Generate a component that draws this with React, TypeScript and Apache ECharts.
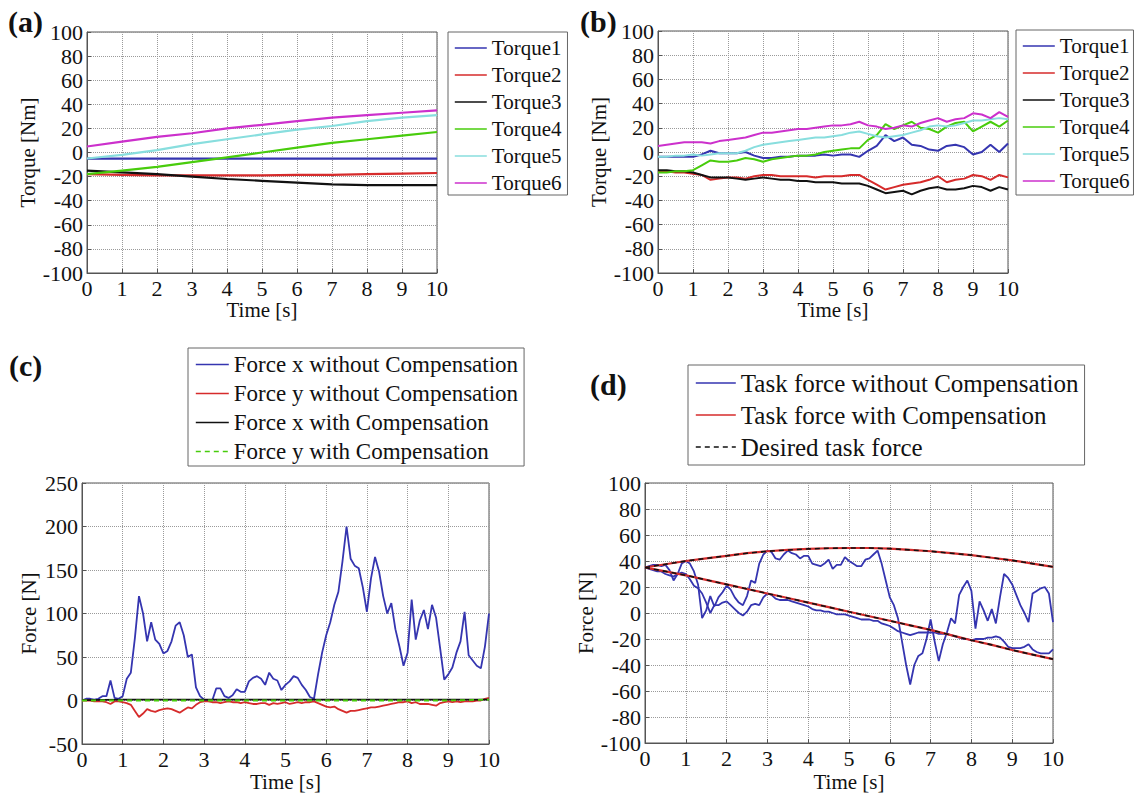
import React, { useEffect, useRef } from "react";
import * as echarts from "echarts";

const FONT = "'Liberation Serif', 'Times New Roman', serif";
const C_BLUE = "#3535b0";
const C_RED = "#d62b2b";
const C_BLACK = "#111111";
const C_GREEN = "#48cc0c";
const C_CYAN = "#88dede";
const C_MAGENTA = "#cc30cc";

// ---------- time grids ----------
const T_A = [0, 1, 2, 3, 4, 5, 6, 7, 8, 9, 10];
const T_B = Array.from({ length: 41 }, (_, i) => i * 0.25);
const T_C = Array.from({ length: 101 }, (_, i) => i / 10);
const T_D = Array.from({ length: 101 }, (_, i) => i / 10);
const T_DES = Array.from({ length: 21 }, (_, i) => i * 0.5);

const TORQUE_NAMES = ["Torque1", "Torque2", "Torque3", "Torque4", "Torque5", "Torque6"];
const TORQUE_COLORS = [C_BLUE, C_RED, C_BLACK, C_GREEN, C_CYAN, C_MAGENTA];

// ---------- (a) torques with compensation ----------
const A_TORQUE1 = [-5, -5, -5, -5, -5, -5, -5, -5, -5, -5, -5];
const A_TORQUE2 = [-18, -18.5, -19, -19, -19, -19, -18.5, -18.5, -18, -17.5, -17];
const A_TORQUE3 = [-15, -16.5, -18, -20, -22, -23.5, -25, -26.5, -27, -27, -27];
const A_TORQUE4 = [-18, -15, -12, -8, -4, 0, 4, 8, 11, 14, 17];
const A_TORQUE5 = [-5, -2, 2, 7, 11, 15, 19, 22, 26, 29, 31];
const A_TORQUE6 = [5, 9, 13, 16, 20, 23, 26, 29, 31, 33, 35];

// ---------- (b) torques without compensation (0.25 s steps) ----------
const B_TORQUE1 = [-4, -4, -4, -4, -4, -2, 1, -1, -1, -1, 0, -3, -5, -5, -4, -4, -3, -3, -3, -2, -3, -2, -2, -4, 1, 5, 14, 9, 12, 6, 5, 2, 1, 5, 6, 4, -2, 0, 6, 0, 7];
const B_TORQUE2 = [-16, -16, -17, -17, -18, -19, -23, -22, -21, -21, -22, -20, -19, -19, -20, -20, -20, -20, -21, -20, -20, -20, -19, -19, -23, -27, -31, -29, -27, -26, -25, -23, -20, -25, -23, -22, -19, -20, -23, -19, -21];
const B_TORQUE3 = [-15, -15, -16, -16, -17, -19, -21, -21, -21, -22, -23, -22, -21, -22, -23, -23, -24, -24, -25, -25, -25, -26, -26, -26, -28, -31, -34, -33, -32, -35, -32, -30, -29, -31, -31, -30, -28, -29, -32, -29, -31];
const B_TORQUE4 = [-17, -17, -16, -16, -15, -11, -7, -8, -8, -7, -5, -6, -8, -6, -5, -4, -3, -3, -2, 0, 1, 2, 3, 3, 10, 14, 23, 19, 22, 25, 20, 19, 16, 21, 24, 25, 17, 21, 25, 21, 26];
const B_TORQUE5 = [-4, -4, -3, -3, -2, -3, -2, -1, -1, -1, 1, 4, 6, 7, 8, 9, 10, 11, 12, 12, 13, 14, 16, 17, 15, 13, 12, 13, 14, 16, 18, 21, 22, 21, 22, 24, 26, 26, 27, 28, 27];
const B_TORQUE6 = [5, 6, 7, 8, 8, 8, 7, 9, 10, 11, 12, 14, 16, 16, 17, 18, 19, 19, 20, 21, 22, 22, 23, 25, 22, 21, 19, 20, 22, 21, 24, 26, 28, 25, 27, 28, 32, 31, 28, 33, 29];

// ---------- (c) forces (0.1 s steps) ----------
const C_FX_WITHOUT = [0, 2, 2, 1, 2, 5, 5, 23, 3, 2, 5, 25, 32, 72, 120, 100, 68, 90, 70, 65, 54, 57, 68, 86, 90, 75, 50, 53, 15, 5, 1, 0, 0, 14, 14, 5, 3, 6, 13, 10, 10, 22, 26, 28, 25, 18, 32, 25, 23, 12, 18, 22, 28, 26, 18, 12, 4, 2, 30, 55, 75, 90, 110, 125, 160, 200, 163, 155, 152, 130, 102, 140, 165, 148, 120, 100, 112, 82, 62, 40, 55, 116, 70, 92, 104, 82, 110, 95, 60, 24, 30, 38, 55, 68, 102, 52, 46, 40, 37, 62, 100];
const C_FY_WITHOUT = [0, 0, 0, -1, -1, -1, -2, -4, -1, -1, -2, -3, -5, -12, -19, -15, -10, -12, -13, -11, -10, -9, -10, -12, -14, -11, -8, -9, -5, -2, -1, -1, -2, -2, -3, -2, -1, -2, -2, -3, -2, -3, -4, -4, -3, -3, -5, -3, -4, -3, -2, -4, -3, -2, -3, -2, -2, -1, -3, -5, -7, -8, -7, -10, -12, -14, -12, -12, -11, -10, -9, -8, -8, -7, -6, -5, -4, -3, -2, -2, -1, -3, -2, -4, -4, -4, -5, -6, -3, -2, -1, -2, -1, -2, -1, -1, -1, 0, 0, 2, 3];
const C_FX_WITH = [0.5, 1, 1, 1, 1, 1, 1, 1, 1, 1, 1];
const C_FY_WITH = [0, 0, 0, 0, 0, 0, 0, 0, 0, 0, 1];

// ---------- (d) task forces ----------
const D_WITHOUT_1 = [35, 36, 37, 37, 36, 37, 33, 25, 30, 38, 40, 38, 32, 22, -4, 2, 13, 5, 12, 16, 21, 18, 12, 8, 6, 13, 25, 23, 38, 45, 48, 47, 42, 41, 45, 48, 46, 45, 42, 44, 44, 38, 37, 36, 38, 41, 34, 37, 37, 43, 40, 38, 36, 36, 41, 42, 45, 48, 38, 25, 12, 6, -4, -22, -40, -55, -40, -33, -31, -20, -5, -22, -37, -24, -15, -4, -8, 14, 20, 25, 17, -12, 9, 2, -6, 3, -8, 12, 30, 27, 22, 14, 6, 0, -7, 15, 17, 19, 20, 15, -7];
const D_WITHOUT_2 = [35, 34, 33, 32, 32, 30, 29, 28, 30, 31, 30, 26, 21, 19, 15, 8, 0, 6, 6, 8, 9, 6, 3, 0, -2, 1, 6, 7, 6, 12, 15, 14, 11, 10, 10, 10, 9, 8, 7, 6, 5, 3, 2, 2, 1, 1, 0, -1, -1, -1, -2, -3, -4, -5, -5, -5, -6, -6, -8, -9, -10, -12, -14, -15, -16, -17, -16, -15, -15, -15, -15, -15, -16, -16, -16, -17, -18, -19, -20, -20, -21, -20, -20, -20, -19, -19, -18, -19, -22, -26, -27, -27, -27, -26, -24, -28, -30, -31, -31, -31, -28];
const D_WITH_1 = [35, 37.5, 40, 42, 44, 46, 47.5, 48.5, 49.3, 49.8, 50, 50, 49.5, 48.5, 47.5, 46, 44.5, 42.5, 40.5, 38, 35.5];
const D_WITH_2 = [35, 32, 29, 25.5, 22, 18.5, 15, 11.5, 8, 4.5, 1, -2.5, -6, -9.5, -13, -17, -21, -24.5, -28.5, -32, -35.5];
const D_DESIRED_1 = [35, 37.5, 40, 42, 44, 46, 47.5, 48.5, 49.3, 49.8, 50, 50, 49.5, 48.5, 47.5, 46, 44.5, 42.5, 40.5, 38, 35.5];
const D_DESIRED_2 = [35, 32, 29, 25.5, 22, 18.5, 15, 11.5, 8, 4.5, 1, -2.5, -6, -9.5, -13, -17, -21, -24.5, -28.5, -32, -35.5];

const Y_TICKS_TORQUE = { min: -100, max: 100, interval: 20 };
const Y_TICKS_FORCE_C = { min: -50, max: 250, interval: 50 };

const pairs = (t: number[], v: number[]) => v.map((y, i) => [t[i], y]);

const nameTxt = { fontFamily: FONT, fontSize: 21, color: "#111" };
const tickTxt = { fontFamily: FONT, fontSize: 22, color: "#111" };

function mkX(gridIndex: number, nameGap: number) {
  return {
    type: "value",
    gridIndex,
    min: 0,
    max: 10,
    interval: 1,
    name: "Time [s]",
    nameLocation: "middle",
    nameGap,
    nameTextStyle: { ...nameTxt },
    axisLine: { show: true, onZero: false, lineStyle: { color: "#555", width: 1 } },
    axisTick: { show: true, inside: true, length: 4, lineStyle: { color: "#555" } },
    axisLabel: { ...tickTxt, margin: 4 },
    splitLine: { show: true, lineStyle: { type: "dotted", color: "#9a9a9a", width: 1 } },
  };
}

function mkY(gridIndex: number, name: string, nameGap: number, ticks: { min: number; max: number; interval: number }) {
  return {
    type: "value",
    gridIndex,
    ...ticks,
    name,
    nameLocation: "middle",
    nameGap,
    nameTextStyle: { ...nameTxt },
    axisLine: { show: true, onZero: false, lineStyle: { color: "#555", width: 1 } },
    axisTick: { show: true, inside: true, length: 4, lineStyle: { color: "#555" } },
    axisLabel: { ...tickTxt, margin: 4 },
    splitLine: { show: true, lineStyle: { type: "dotted", color: "#9a9a9a", width: 1 } },
  };
}

function line(name: string, data: number[][], color: string, axis: number, dashed = false, width = 1.8) {
  return {
    type: "line",
    name,
    data,
    xAxisIndex: axis,
    yAxisIndex: axis,
    symbol: "none",
    showSymbol: false,
    silent: true,
    lineStyle: { color, width, type: dashed ? [5, 4] : "solid" },
    itemStyle: { color },
  };
}

function legendBox(data: string[], left: number, top: number, fontSize: number, lineHeight: number, itemGap: number, itemWidth: number, padding: number[]) {
  return {
    data,
    orient: "vertical",
    left,
    top,
    padding,
    itemGap,
    itemWidth,
    itemHeight: 12,
    selectedMode: false,
    borderColor: "#666",
    borderWidth: 1,
    backgroundColor: "#fff",
    itemStyle: { opacity: 0, borderWidth: 0 },
    lineStyle: { width: 1.6 },
    textStyle: { fontFamily: FONT, fontSize, lineHeight, color: "#111" },
  };
}

export default function App() {
  const ref = useRef<HTMLDivElement>(null);
  useEffect(() => {
    if (!ref.current) return;
    const chart = echarts.init(ref.current, null, { renderer: "svg" });
    const A = [A_TORQUE1, A_TORQUE2, A_TORQUE3, A_TORQUE4, A_TORQUE5, A_TORQUE6];
    const B = [B_TORQUE1, B_TORQUE2, B_TORQUE3, B_TORQUE4, B_TORQUE5, B_TORQUE6];
    const series: any[] = [];
    A.forEach((v, i) => series.push(line(TORQUE_NAMES[i], pairs(T_A, v), TORQUE_COLORS[i], 0, false, 2.2)));
    B.forEach((v, i) => series.push(line(TORQUE_NAMES[i], pairs(T_B, v), TORQUE_COLORS[i], 1, false, 2)));
    series.push(line("Force x without Compensation", pairs(T_C, C_FX_WITHOUT), C_BLUE, 2));
    series.push(line("Force y without Compensation", pairs(T_C, C_FY_WITHOUT), C_RED, 2));
    series.push(line("Force x with Compensation", pairs(T_A, C_FX_WITH), C_BLACK, 2));
    series.push(line("Force y with Compensation", pairs(T_A, C_FY_WITH), C_GREEN, 2, true));
    series.push(line("Task force without Compensation", pairs(T_D, D_WITHOUT_1), C_BLUE, 3));
    series.push(line("Task force without Compensation", pairs(T_D, D_WITHOUT_2), C_BLUE, 3));
    series.push(line("Task force with Compensation", pairs(T_DES, D_WITH_1), C_RED, 3, false, 2.2));
    series.push(line("Task force with Compensation", pairs(T_DES, D_WITH_2), C_RED, 3, false, 2.2));
    series.push(line("Desired task force", pairs(T_DES, D_DESIRED_1), C_BLACK, 3, true, 1.6));
    series.push(line("Desired task force", pairs(T_DES, D_DESIRED_2), C_BLACK, 3, true, 1.6));

    const label = (text: string, left: number, top: number) => ({
      type: "text",
      left,
      top,
      style: { text, fontFamily: FONT, fontWeight: "bold", fontSize: 30, fill: "#111" },
    });

    chart.setOption({
      animation: false,
      backgroundColor: "#fff",
      grid: [
        { left: 87, top: 32, width: 350, height: 241, show: true, borderColor: "#555", borderWidth: 1, backgroundColor: "#fff" },
        { left: 658, top: 31, width: 350, height: 242, show: true, borderColor: "#555", borderWidth: 1, backgroundColor: "#fff" },
        { left: 82, top: 483, width: 407, height: 261, show: true, borderColor: "#555", borderWidth: 1, backgroundColor: "#fff" },
        { left: 645, top: 483, width: 408, height: 260, show: true, borderColor: "#555", borderWidth: 1, backgroundColor: "#fff" },
      ],
      xAxis: [mkX(0, 22), mkX(1, 22), mkX(2, 27), mkX(3, 28)],
      yAxis: [
        mkY(0, "Torque [Nm]", 48, Y_TICKS_TORQUE),
        mkY(1, "Torque [Nm]", 47, Y_TICKS_TORQUE),
        mkY(2, "Force [N]", 43, Y_TICKS_FORCE_C),
        mkY(3, "Force [N]", 49, Y_TICKS_TORQUE),
      ],
      legend: [
        legendBox(TORQUE_NAMES, 448, 32, 21, 22, 5, 32, [5, 6, 1, 6]),
        legendBox(TORQUE_NAMES, 1016, 30, 21, 22, 5, 32, [5, 4, 3, 6]),
        legendBox(["Force x without Compensation", "Force y without Compensation", "Force x with Compensation", "Force y with Compensation"], 188, 348, 23, 25, 4, 33, [4, 6, 2, 7]),
        legendBox(["Task force without Compensation", "Task force with Compensation", "Desired task force"], 688, 365, 25, 28, 4, 40, [4, 6, 4, 7]),
      ],
      graphic: [
        label("(a)", 8, 6),
        label("(b)", 580, 6),
        label("(c)", 9, 350),
        label("(d)", 590, 369),
      ],
      series,
    });
    return () => chart.dispose();
  }, []);
  return <div ref={ref} style={{ position: "fixed", left: 0, top: 0, width: 1140, height: 795 }} />;
}
